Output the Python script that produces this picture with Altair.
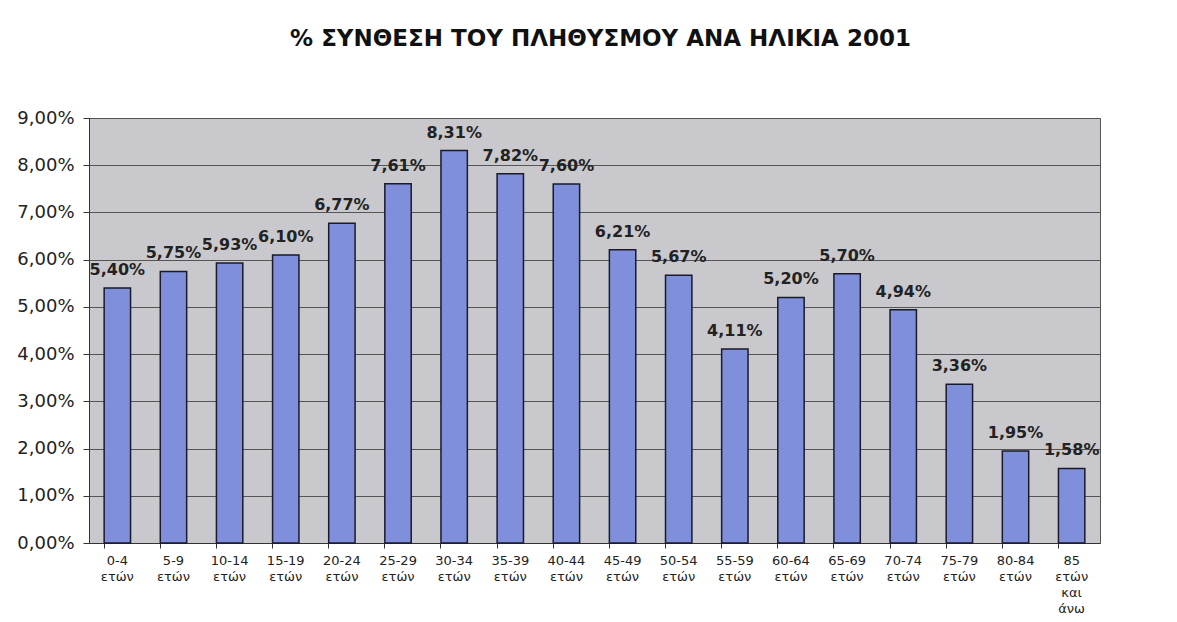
import altair as alt
import pandas as pd

categories = ["0-4 ετών", "5-9 ετών", "10-14 ετών", "15-19 ετών", "20-24 ετών",
              "25-29 ετών", "30-34 ετών", "35-39 ετών", "40-44 ετών", "45-49 ετών",
              "50-54 ετών", "55-59 ετών", "60-64 ετών", "65-69 ετών", "70-74 ετών",
              "75-79 ετών", "80-84 ετών", "85 ετών και άνω"]
values = [5.40, 5.75, 5.93, 6.10, 6.77, 7.61, 8.31, 7.82, 7.60, 6.21,
          5.67, 4.11, 5.20, 5.70, 4.94, 3.36, 1.95, 1.58]
y_ticks = [0, 1, 2, 3, 4, 5, 6, 7, 8, 9]

df = pd.DataFrame({"cat": categories, "val": values})
df["lbl"] = [("%.2f" % v).replace(".", ",") + "%" for v in values]

font = "DejaVu Sans"

x = alt.X("cat:N", sort=categories, title=None,
          scale=alt.Scale(paddingInner=0.53, paddingOuter=0.27),
          axis=alt.Axis(labelAngle=0, labelExpr="split(datum.label, ' ')",
                        labelFont=font, labelFontSize=13, labelColor="#222",
                        labelLineHeight=16, labelPadding=6,
                        bandPosition=0, tickSize=5, tickColor="#333",
                        domainColor="#333", grid=False))
y = alt.Y("val:Q", title=None,
          scale=alt.Scale(domain=[0, 9], nice=False),
          axis=alt.Axis(values=y_ticks,
                        labelExpr="replace(format(datum.value, '.2f'), '.', ',') + '%'",
                        labelFont=font, labelFontSize=18, labelColor="#222",
                        labelPadding=9, tickSize=6, tickColor="#333",
                        domainColor="#333", gridColor="#555", gridWidth=1))

bars = alt.Chart(df).mark_bar(color="#7f8fdb", stroke="#1a1a2a", strokeWidth=1.5).encode(x=x, y=y)
texts = alt.Chart(df).mark_text(font=font, fontSize=16, fontWeight="bold", color="#222",
                                 baseline="bottom", dy=-10).encode(
    x=alt.X("cat:N", sort=categories), y="val:Q", text="lbl:N")

chart = alt.layer(bars, texts).properties(
    width=1011, height=425,
    title=alt.TitleParams("%  ΣΥΝΘΕΣΗ ΤΟΥ ΠΛΗΘΥΣΜΟΥ ΑΝΑ ΗΛΙΚΙΑ 2001",
                          font=font, fontSize=23, fontWeight="bold", color="#111",
                          anchor="middle", offset=58, dx=6),
    autosize=alt.AutoSizeParams(type="none"),
    padding={"left": 81, "top": 110, "right": 69, "bottom": 76},
    background="white",
).configure_view(fill="#c9c9cd", stroke="#555", strokeWidth=1)

chart.save("out.html", embed_options={"renderer": "svg", "actions": False})
